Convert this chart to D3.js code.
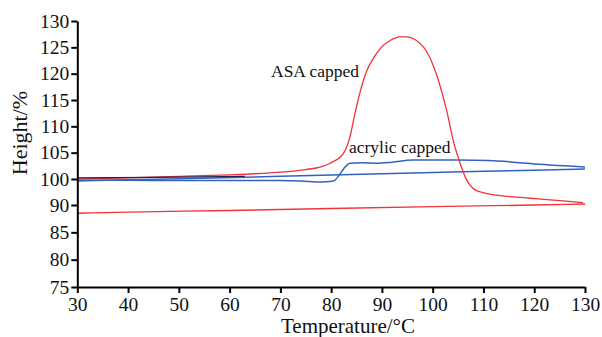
<!DOCTYPE html>
<html>
<head>
<meta charset="utf-8">
<script src="https://cdn.jsdelivr.net/npm/d3@7"></script>
<style>
  body { margin: 0; background: #fff; }
  text { font-family: "Liberation Serif", "Times New Roman", serif; fill: #111; }
</style>
</head>
<body>
<div id="chart"></div>
<script>
// tick labels (the axis skips 95 between 100 and 90)
const xTicks = [30, 40, 50, 60, 70, 80, 90, 100, 110, 120, 130]
const yTicks = [75, 80, 85, 90, 100, 105, 110, 115, 120, 125, 130]

// ASA capped, heating run
const asaHeatT = [30, 40, 50, 60, 65, 70, 75, 78, 79.4, 80.4, 82.4, 83.7, 84.7, 85.7, 87, 88.5, 89.7, 91.6, 93.6, 94.9, 96.5, 98.8, 100.8, 101.8, 102.8, 104.1, 105.4, 106.4, 107.3, 108.2, 109.3, 111, 113.3, 116, 119.2, 122.5, 125.7, 129.6]
const asaHeatH = [100.0, 100.2, 100.5, 100.8, 101.0, 101.3, 101.8, 102.3, 102.8, 103.3, 104.8, 108.0, 112.5, 116.5, 120.5, 123.2, 124.8, 126.3, 127.0, 127.0, 126.5, 124.2, 119.7, 116.5, 112.8, 107.1, 103.0, 100.4, 97.7, 96.0, 95.1, 94.3, 93.6, 93.1, 92.6, 92.1, 91.6, 90.9]
// ASA capped, cooling run
const asaCoolT = [30, 40, 60, 80, 100, 120, 130]
const asaCoolH = [88.5, 88.7, 89.0, 89.35, 89.7, 90.0, 90.4]

// acrylic capped, heating run
const acrHeatT = [30, 40, 50, 60, 70, 74, 78, 80.4, 81.5, 82.5, 83.7, 86, 89, 92, 96, 105, 111, 116, 121, 126, 130]
const acrHeatH = [99.5, 99.5, 99.4, 99.4, 99.4, 99.2, 98.8, 99.2, 100.6, 102.0, 103.0, 103.1, 103.0, 103.2, 103.6, 103.6, 103.5, 103.2, 102.8, 102.5, 102.3]
// acrylic capped, cooling run
const acrCoolT = [30, 40, 50, 70, 90, 110, 130]
const acrCoolH = [99.25, 99.7, 100.05, 100.5, 101.0, 101.45, 101.9]

// dark trace at the start
const darkT = [30, 45, 63]
const darkH = [100.2, 100.3, 100.5]

let dimensions = {
    width: 602,
    height: 337,
    left: 77.3,
    right: 585,
    top: 21,
    bottom: 287
}

const svg = d3.select('#chart')
    .append('svg')
    .attr('width', dimensions.width)
    .attr('height', dimensions.height)

const xScale = d3.scaleLinear()
    .domain([30, 130])
    .range([dimensions.left, dimensions.right])

// piecewise scale: 90..100 takes a single tick step
const yScale = d3.scaleLinear()
    .domain([75, 90, 100, 130])
    .range([dimensions.bottom, 205, 179, dimensions.top])

const zip = (t, h) => t.map((d, i) => [d, h[i]])

const line = d3.line()
    .x(d => xScale(d[0]))
    .y(d => yScale(d[1]))
    .curve(d3.curveMonotoneX)

const series = [
    { data: zip(asaCoolT, asaCoolH), color: '#ef3338', w: 1.4 },
    { data: zip(acrCoolT, acrCoolH), color: '#3562bd', w: 1.5 },
    { data: zip(acrHeatT, acrHeatH), color: '#3562bd', w: 1.5 },
    { data: zip(asaHeatT, asaHeatH), color: '#ef3338', w: 1.3 },
    { data: zip(darkT, darkH), color: '#1d2452', w: 1.3 }
]

svg.append('g')
    .selectAll('path')
    .data(series)
    .join('path')
    .attr('d', d => line(d.data))
    .attr('fill', 'none')
    .attr('stroke', d => d.color)
    .attr('stroke-width', d => d.w)

// Axes
const xAxis = d3.axisBottom(xScale)
    .tickValues(xTicks)
    .tickSize(6)
    .tickPadding(4)
    .tickSizeOuter(0)

const yAxis = d3.axisLeft(yScale)
    .tickValues(yTicks)
    .tickSize(6)
    .tickPadding(2)
    .tickSizeOuter(0)

const gx = svg.append('g')
    .attr('transform', `translate(0, ${dimensions.bottom})`)
    .call(xAxis)

const gy = svg.append('g')
    .attr('transform', `translate(${dimensions.left}, 0)`)
    .call(yAxis)

;[gx, gy].forEach(g => {
    g.attr('font-family', 'Liberation Serif, Times New Roman, serif')
        .attr('font-size', 19.5)
    g.select('.domain').attr('stroke', '#000').attr('stroke-width', 2)
    g.selectAll('.tick line').attr('stroke', '#000').attr('stroke-width', 2)
    g.selectAll('.tick text').attr('fill', '#111')
})

// Axis titles
svg.append('text')
    .attr('x', 348)
    .attr('y', 333)
    .attr('text-anchor', 'middle')
    .style('font-size', '21px')
    .text('Temperature/°C')

svg.append('text')
    .attr('transform', 'translate(27, 133) rotate(-90)')
    .attr('text-anchor', 'middle')
    .style('font-size', '22px')
    .text('Height/%')

// Annotations
svg.append('text')
    .attr('x', 271)
    .attr('y', 77)
    .style('font-size', '17.5px')
    .text('ASA capped')

svg.append('text')
    .attr('x', 349)
    .attr('y', 153)
    .style('font-size', '17.5px')
    .text('acrylic capped')
</script>
</body>
</html>
